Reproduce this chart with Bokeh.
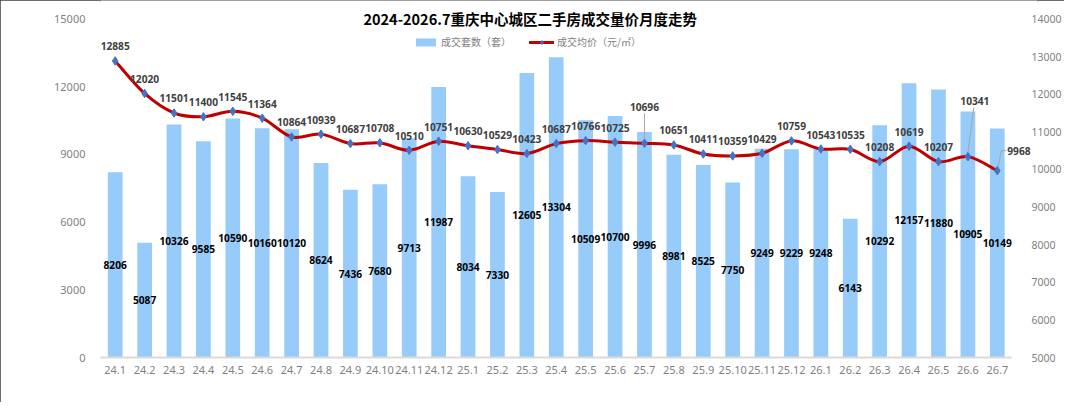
from bokeh.plotting import figure
from bokeh.models import (ColumnDataSource, Range1d, LinearAxis, FixedTicker,
                          LabelSet, Label, Legend, LegendItem)
from bokeh.core.properties import value
from bokeh.embed import file_html
from bokeh.resources import INLINE

# data
months = ["24.1", "24.2", "24.3", "24.4", "24.5", "24.6", "24.7", "24.8", "24.9", "24.10", "24.11", "24.12",
          "25.1", "25.2", "25.3", "25.4", "25.5", "25.6", "25.7", "25.8", "25.9", "25.10", "25.11", "25.12",
          "26.1", "26.2", "26.3", "26.4", "26.5", "26.6", "26.7"]
counts = [8206, 5087, 10326, 9585, 10590, 10160, 10120, 8624, 7436, 7680, 9713, 11987,
          8034, 7330, 12605, 13304, 10509, 10700, 9996, 8981, 8525, 7750, 9249, 9229,
          9248, 6143, 10292, 12157, 11880, 10905, 10149]
prices = [12885, 12020, 11501, 11400, 11545, 11364, 10864, 10939, 10687, 10708, 10510, 10751,
          10630, 10529, 10423, 10687, 10766, 10725, 10696, 10651, 10411, 10359, 10429, 10759,
          10543, 10535, 10208, 10619, 10207, 10341, 9968]
count_ticks = [0, 3000, 6000, 9000, 12000, 15000]
price_ticks = [5000, 6000, 7000, 8000, 9000, 10000, 11000, 12000, 13000, 14000]

TITLE = "2024-2026.7重庆中心城区二手房成交量价月度走势"
BAR_NAME = "成交套数（套）"
LINE_NAME = "成交均价（元/㎡）"

BAR_COLOR = "#96CBFA"
LINE_COLOR = "#C00000"
MARK_COLOR = "#4472C4"
GRAY = "#7F7F7F"
NUM_FONT = "Noto Sans"
CJK_FONT = "Noto Sans CJK SC"

W, H = 1064, 402
LEFT, RIGHT, BOTTOM = 100, 22, 45
TOP_PAD = 18.5        # frame reaches above the top tick so labels aren't clipped
PLOT_H = H - BOTTOM - TOP_PAD   # pixels between the bottom and top ticks
STEP = 29.56          # pixels per month

n = len(months)
xs = list(range(n))
last = n - 1

# label nudges (screen px) for the price labels that were moved in the original
dx = [0] * n
dy = [14.5] * n
dx[18], dy[18] = 0, 36.5
dx[29], dy[29] = 7, 56
# the last label sits to the right of its point, drawn separately below
label_idx = [i for i in range(n) if i != last]

src = ColumnDataSource(data=dict(
    x=xs, month=months, count=counts, mid=[c / 2 for c in counts],
    price=prices, dx=dx, dy=dy,
))
psrc = ColumnDataSource(data=dict(
    x=[xs[i] for i in label_idx], price=[prices[i] for i in label_idx],
    dx=[dx[i] for i in label_idx], dy=[dy[i] for i in label_idx],
))

frame_w = W - LEFT - RIGHT
x_end = -0.5 + frame_w / STEP
c_top = 15000 + TOP_PAD * 15000 / PLOT_H
p_top = 14000 + TOP_PAD * 9000 / PLOT_H

p = figure(width=W, height=H, x_range=Range1d(-0.5, x_end), y_range=Range1d(0, c_top),
           output_backend="svg", toolbar_location=None,
           min_border_left=LEFT, min_border_right=RIGHT, min_border_top=0, min_border_bottom=BOTTOM,
           styles={"outline": "2px solid #3C3C3C", "outline-offset": "-2px"})
p.extra_y_ranges = {"price": Range1d(5000, p_top)}
p.xgrid.visible = False
p.ygrid.visible = False
p.outline_line_color = None

bars = p.vbar(x="x", top="count", width=0.5, source=src, fill_color=BAR_COLOR, line_color=None)

# smooth price curve (Catmull-Rom style bezier through the points)
x0, y0, x1, y1, cx0, cy0, cx1, cy1 = [], [], [], [], [], [], [], []
for i in range(n - 1):
    a = max(i - 1, 0)
    b = min(i + 2, n - 1)
    x0.append(xs[i]); y0.append(prices[i])
    x1.append(xs[i + 1]); y1.append(prices[i + 1])
    cx0.append(xs[i] + (xs[i + 1] - xs[a]) / 6)
    cy0.append(prices[i] + (prices[i + 1] - prices[a]) / 6)
    cx1.append(xs[i + 1] - (xs[b] - xs[i]) / 6)
    cy1.append(prices[i + 1] - (prices[b] - prices[i]) / 6)
curve = p.bezier(x0=x0, y0=y0, x1=x1, y1=y1, cx0=cx0, cy0=cy0, cx1=cx1, cy1=cy1,
                 line_color=LINE_COLOR, line_width=3, line_cap="round", y_range_name="price")

# leader lines for moved labels: (point index, start px offset, end px offset)
px_per_price = PLOT_H / 9000
leaders = [(18, (0, 4), (0, 30)),
           (29, (0, 4), (6, 49)),
           (last, (1, 4), (4, 20)),
           (last, (4, 20), (9, 20))]
p.segment(x0=[xs[i] + a[0] / STEP for i, a, b in leaders],
          y0=[prices[i] + a[1] / px_per_price for i, a, b in leaders],
          x1=[xs[i] + b[0] / STEP for i, a, b in leaders],
          y1=[prices[i] + b[1] / px_per_price for i, a, b in leaders],
          line_color="#A6A6A6", line_width=1, y_range_name="price")

marks = p.scatter(x="x", y="price", source=src, marker="diamond", size=8.5,
                  fill_color=MARK_COLOR, line_color=MARK_COLOR, y_range_name="price")

p.add_layout(LabelSet(x="x", y="mid", text="count", source=src, text_align="center",
                      text_baseline="middle", text_font=value(NUM_FONT), text_font_size="10.2px",
                      text_font_style="bold", text_color="#000000"))
p.add_layout(LabelSet(x="x", y="price", text="price", source=psrc, x_offset="dx", y_offset="dy",
                      y_range_name="price", text_align="center", text_baseline="middle",
                      text_font=value(NUM_FONT), text_font_size="10.2px",
                      text_font_style="bold", text_color="#404040"))
p.add_layout(Label(x=xs[last], y=prices[last], text=str(prices[last]), x_offset=10, y_offset=20,
                   y_range_name="price", text_align="left", text_baseline="middle",
                   text_font=NUM_FONT, text_font_size="10.2px",
                   text_font_style="bold", text_color="#404040"))

# axes
p.xaxis.ticker = FixedTicker(ticks=xs)
p.xaxis.major_label_overrides = {i: m for i, m in zip(xs, months)}
p.xaxis.bounds = (-0.5, n - 0.5)
p.xaxis.axis_line_color = "#D9D9D9"
p.xaxis.axis_line_width = 2
p.xaxis.major_label_standoff = 2
p.xaxis.major_label_text_font_size = "11px"

p.yaxis.ticker = FixedTicker(ticks=count_ticks)
p.yaxis.axis_line_color = None
p.yaxis.major_label_standoff = 9
p.yaxis.major_label_text_font_size = "11px"

# the right labels sit partly over the frame's padding strip, as in the original
right = LinearAxis(y_range_name="price", ticker=FixedTicker(ticks=price_ticks))
right.axis_line_color = None
right.major_label_standoff = -12
right.major_label_text_font_size = "10.5px"
p.add_layout(right, "right")

for ax in p.axis:
    ax.major_tick_line_color = None
    ax.minor_tick_line_color = None
    ax.major_label_text_color = GRAY
    ax.major_label_text_font = NUM_FONT

p.add_layout(Label(x=(532 - LEFT) / STEP - 0.5, y=15000, y_offset=1, text=TITLE, text_align="center",
                   text_baseline="middle", text_font=CJK_FONT, text_font_size="14.5px",
                   text_font_style="bold", text_color="#000000"))

legend = Legend(items=[LegendItem(label=BAR_NAME, renderers=[bars]),
                       LegendItem(label=LINE_NAME, renderers=[curve, marks])],
                orientation="horizontal", location=(313, 308), border_line_color=None,
                background_fill_alpha=0, padding=0, margin=0, spacing=18, label_standoff=3,
                glyph_width=25, glyph_height=10, label_height=12,
                label_text_font=CJK_FONT, label_text_font_size="10px", label_text_color=GRAY)
p.add_layout(legend)

open("out.html", "w").write(file_html(p, INLINE))
